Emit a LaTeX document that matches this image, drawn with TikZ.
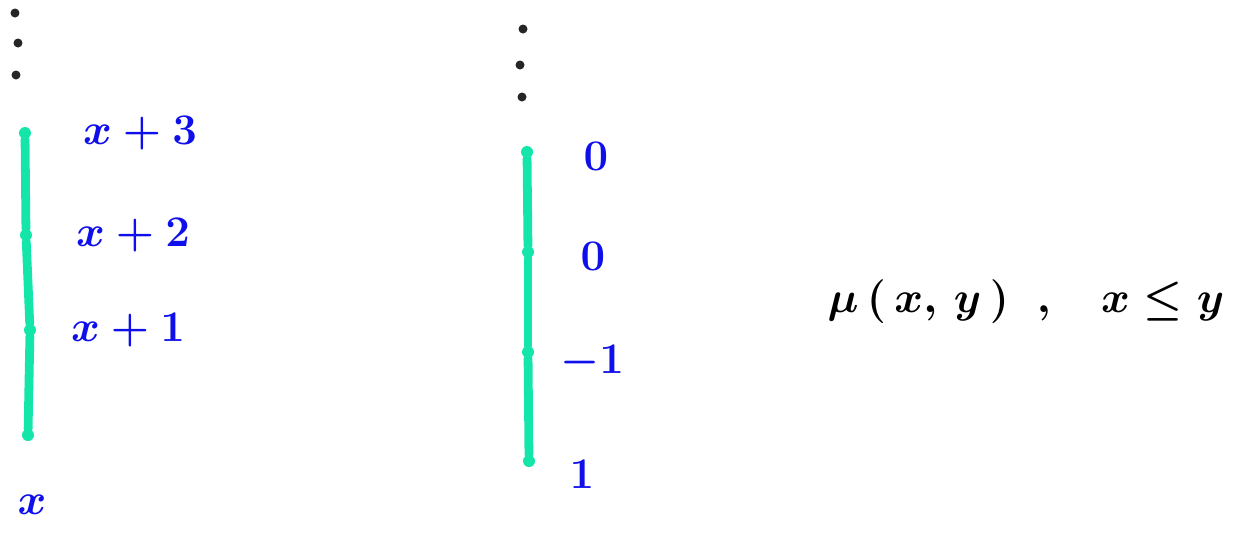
\documentclass[tikz,border=0pt]{standalone}
\usetikzlibrary{positioning}

\definecolor{seg}{RGB}{20,230,170}
\definecolor{lblue}{RGB}{15,15,235}

\begin{document}
\begin{tikzpicture}[
x=0.02cm,y=-0.02cm,
dot/.style={circle,fill=seg,inner sep=0pt,minimum size=0.24cm},
vdot/.style={circle,fill=black!85,inner sep=0pt,minimum size=0.18cm},
seg/.style={draw=seg,line width=5pt,line cap=round},
lbl/.style={text=lblue,font=\fontsize{33}{36}\selectfont\boldmath},
txt/.style={font=\fontsize{36}{40}\selectfont\boldmath}
]
\useasboundingbox (0,0) rectangle (1256,532);

% left chain
\foreach \x/\y[count=\i,remember=\i as \p(initially 0)] in {28/435,30/330,26/235,25/133}{
\node[dot] (a\i) at (\x,\y) {};
\ifnum\i>1 \draw[seg] (a\p)--(a\i); \fi
}
\node[lbl] (x3) at (140,133) {$x+3$};
\node[lbl] (x2) at (133,235) {$x+2$};
\node[lbl] (x1) at (128,330) {$x+1$};
\node[lbl] (x0) at (32,505) {$x$};

\node[vdot] (u1) at (15,13) {};
\node[vdot] (u2) at (18,43) {};
\node[vdot] (u3) at (16,75) {};

% middle chain
\foreach \x/\y[count=\i,remember=\i as \p(initially 0)] in {529/461,528/352,528/252,527/152}{
\node[dot] (b\i) at (\x,\y) {};
\ifnum\i>1 \draw[seg] (b\p)--(b\i); \fi
}
\node[lbl] (m0) at (596,156) {$0$};
\node[lbl] (m1) at (593,256) {$0$};
\node[lbl] (m2) at (592,362) {$-1$};
\node[lbl] (m3) at (582,474) {$1$};

\node[vdot] (w1) at (523,29) {};
\node[vdot] (w2) at (520,65) {};
\node[vdot] (w3) at (522,97) {};

\node[txt] (mu) at (1026,302) {$\mu\,(\,x,\,y\,)\;\;,\;\;\;x\leq y$};

\end{tikzpicture}
\end{document}
